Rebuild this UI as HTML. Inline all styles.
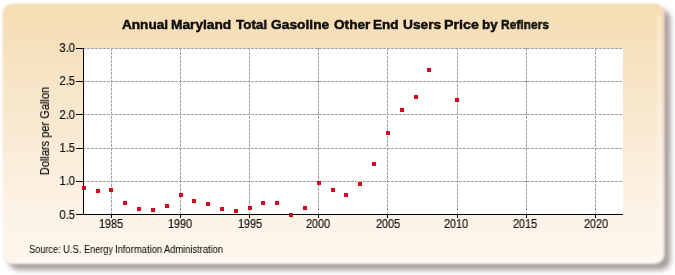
<!DOCTYPE html>
<html><head><meta charset="utf-8"><style>
html,body{margin:0;padding:0;background:#fff;width:675px;height:275px;overflow:hidden;position:relative;font-family:"Liberation Sans",sans-serif;}
.tw,.sw,.yl,.xl,.ytitle{will-change:transform;}
.tw{position:absolute;white-space:nowrap;transform-origin:0 0;color:#111;font-size:13.5px;font-weight:bold;-webkit-text-stroke:0.45px #000;line-height:16px;}
.sw{position:absolute;white-space:nowrap;transform-origin:0 0;color:#000;font-size:10px;line-height:12px;}
.yl,.xl,.ytitle{-webkit-text-stroke:0.2px #000;color:#000;}
svg{position:absolute;left:0;top:0;}
.yl{position:absolute;left:35px;width:40px;text-align:right;font-size:12px;color:#1a1a1a;line-height:14px;transform:scaleX(0.93);transform-origin:100% 50%;}
.xl{position:absolute;top:217px;width:40px;text-align:center;font-size:12px;color:#1a1a1a;line-height:14px;transform:scaleX(0.9);}
.ytitle{position:absolute;left:45px;top:131.3px;transform:translate(-50%,-50%) rotate(-90deg) scaleX(0.92);font-size:12px;color:#1a1a1a;white-space:nowrap;line-height:14px;}
</style></head><body>
<svg width="675" height="275" viewBox="0 0 675 275">
<defs>
<linearGradient id="pg" x1="0" y1="0" x2="0" y2="1">
<stop offset="0" stop-color="#f5ddb3"/>
<stop offset="0.45" stop-color="#f8e8cf"/>
<stop offset="0.75" stop-color="#fcf2e4"/>
<stop offset="1" stop-color="#fdf6ec"/>
</linearGradient>
<filter id="sh" x="-5%" y="-5%" width="110%" height="110%"><feGaussianBlur stdDeviation="2.5"/></filter>
<filter id="pb2" x="-5%" y="-5%" width="110%" height="110%"><feGaussianBlur stdDeviation="0.8"/></filter>
<filter id="pb" x="-5%" y="-5%" width="110%" height="110%"><feGaussianBlur stdDeviation="1.0"/></filter>
</defs>
<rect x="8.5" y="9.5" width="662" height="260.5" rx="10" ry="10" fill="#2a2018" fill-opacity="0.42" filter="url(#sh)"/>
<rect x="2.5" y="3.5" width="662" height="260.5" rx="10" ry="10" fill="url(#pg)" filter="url(#pb)"/>
<path d="M 659 16 L 659 249 Q 659 260.5 648 260.5 L 14 260.5" fill="none" stroke="#fff" stroke-opacity="0.45" stroke-width="2.5" filter="url(#pb2)"/>
</svg>

<svg width="675" height="275" viewBox="0 0 675 275" shape-rendering="crispEdges">
<rect x="83" y="48" width="540" height="166" fill="#ffffff"/>
<line x1="83" y1="48.5" x2="623" y2="48.5" stroke="#a0a0a0" stroke-width="1" stroke-dasharray="3,1"/>
<line x1="83" y1="81.5" x2="623" y2="81.5" stroke="#a0a0a0" stroke-width="1" stroke-dasharray="3,1"/>
<line x1="83" y1="114.5" x2="623" y2="114.5" stroke="#a0a0a0" stroke-width="1" stroke-dasharray="3,1"/>
<line x1="83" y1="148.5" x2="623" y2="148.5" stroke="#a0a0a0" stroke-width="1" stroke-dasharray="3,1"/>
<line x1="83" y1="181.5" x2="623" y2="181.5" stroke="#a0a0a0" stroke-width="1" stroke-dasharray="3,1"/>
<line x1="111.5" y1="48" x2="111.5" y2="214" stroke="#a0a0a0" stroke-width="1" stroke-dasharray="3,1"/>
<line x1="180.5" y1="48" x2="180.5" y2="214" stroke="#a0a0a0" stroke-width="1" stroke-dasharray="3,1"/>
<line x1="249.5" y1="48" x2="249.5" y2="214" stroke="#a0a0a0" stroke-width="1" stroke-dasharray="3,1"/>
<line x1="318.5" y1="48" x2="318.5" y2="214" stroke="#a0a0a0" stroke-width="1" stroke-dasharray="3,1"/>
<line x1="387.5" y1="48" x2="387.5" y2="214" stroke="#a0a0a0" stroke-width="1" stroke-dasharray="3,1"/>
<line x1="457.5" y1="48" x2="457.5" y2="214" stroke="#a0a0a0" stroke-width="1" stroke-dasharray="3,1"/>
<line x1="526.5" y1="48" x2="526.5" y2="214" stroke="#a0a0a0" stroke-width="1" stroke-dasharray="3,1"/>
<line x1="595.5" y1="48" x2="595.5" y2="214" stroke="#a0a0a0" stroke-width="1" stroke-dasharray="3,1"/>
<line x1="83.5" y1="48" x2="83.5" y2="215" stroke="#000" stroke-width="1"/>
<line x1="83" y1="214.5" x2="623" y2="214.5" stroke="#000" stroke-width="1"/>
<line x1="76" y1="48.5" x2="83" y2="48.5" stroke="#000" stroke-width="1"/>
<line x1="76" y1="81.5" x2="83" y2="81.5" stroke="#000" stroke-width="1"/>
<line x1="76" y1="114.5" x2="83" y2="114.5" stroke="#000" stroke-width="1"/>
<line x1="76" y1="148.5" x2="83" y2="148.5" stroke="#000" stroke-width="1"/>
<line x1="76" y1="181.5" x2="83" y2="181.5" stroke="#000" stroke-width="1"/>
<line x1="76" y1="214.5" x2="83" y2="214.5" stroke="#000" stroke-width="1"/>
<line x1="111.5" y1="214" x2="111.5" y2="218" stroke="#000" stroke-width="1"/>
<line x1="180.5" y1="214" x2="180.5" y2="218" stroke="#000" stroke-width="1"/>
<line x1="249.5" y1="214" x2="249.5" y2="218" stroke="#000" stroke-width="1"/>
<line x1="318.5" y1="214" x2="318.5" y2="218" stroke="#000" stroke-width="1"/>
<line x1="387.5" y1="214" x2="387.5" y2="218" stroke="#000" stroke-width="1"/>
<line x1="457.5" y1="214" x2="457.5" y2="218" stroke="#000" stroke-width="1"/>
<line x1="526.5" y1="214" x2="526.5" y2="218" stroke="#000" stroke-width="1"/>
<line x1="595.5" y1="214" x2="595.5" y2="218" stroke="#000" stroke-width="1"/>
<rect x="82" y="186" width="4" height="4" fill="#d60a1e"/>
<rect x="96" y="189" width="4" height="4" fill="#d60a1e"/>
<rect x="109" y="188" width="4" height="4" fill="#d60a1e"/>
<rect x="123" y="201" width="4" height="4" fill="#d60a1e"/>
<rect x="137" y="207" width="4" height="4" fill="#d60a1e"/>
<rect x="151" y="208" width="4" height="4" fill="#d60a1e"/>
<rect x="165" y="204" width="4" height="4" fill="#d60a1e"/>
<rect x="179" y="193" width="4" height="4" fill="#d60a1e"/>
<rect x="192" y="199" width="4" height="4" fill="#d60a1e"/>
<rect x="206" y="202" width="4" height="4" fill="#d60a1e"/>
<rect x="220" y="207" width="4" height="4" fill="#d60a1e"/>
<rect x="234" y="209" width="4" height="4" fill="#d60a1e"/>
<rect x="248" y="206" width="4" height="4" fill="#d60a1e"/>
<rect x="261" y="201" width="4" height="4" fill="#d60a1e"/>
<rect x="275" y="201" width="4" height="4" fill="#d60a1e"/>
<rect x="289" y="213" width="4" height="4" fill="#d60a1e"/>
<rect x="303" y="206" width="4" height="4" fill="#d60a1e"/>
<rect x="317" y="181" width="4" height="4" fill="#d60a1e"/>
<rect x="331" y="188" width="4" height="4" fill="#d60a1e"/>
<rect x="344" y="193" width="4" height="4" fill="#d60a1e"/>
<rect x="358" y="182" width="4" height="4" fill="#d60a1e"/>
<rect x="372" y="162" width="4" height="4" fill="#d60a1e"/>
<rect x="386" y="131" width="4" height="4" fill="#d60a1e"/>
<rect x="400" y="108" width="4" height="4" fill="#d60a1e"/>
<rect x="414" y="95" width="4" height="4" fill="#d60a1e"/>
<rect x="427" y="68" width="4" height="4" fill="#d60a1e"/>
<rect x="455" y="98" width="4" height="4" fill="#d60a1e"/>
<rect x="83" y="186" width="1" height="4" fill="#8a0814"/>
<rect x="289" y="214" width="4" height="1" fill="#8a0814"/>
</svg>
<div class="yl" style="top:41px">3.0</div><div class="yl" style="top:74px">2.5</div><div class="yl" style="top:108px">2.0</div><div class="yl" style="top:141px">1.5</div><div class="yl" style="top:174px">1.0</div><div class="yl" style="top:208px">0.5</div>
<div class="xl" style="left:91.45px">1985</div><div class="xl" style="left:160.40px">1990</div><div class="xl" style="left:229.60px">1995</div><div class="xl" style="left:298.10px">2000</div><div class="xl" style="left:367.50px">2005</div><div class="xl" style="left:436.40px">2010</div><div class="xl" style="left:505.30px">2015</div><div class="xl" style="left:575.70px">2020</div>
<div class="ytitle">Dollars per Gallon</div>
<span class="tw" style="left:121.80px;top:17.20px;transform:scaleX(1.0067)">Annual</span><span class="tw" style="left:170.74px;top:17.20px;transform:scaleX(1.0165)">Maryland</span><span class="tw" style="left:235.60px;top:17.20px;transform:scaleX(0.9934)">Total</span><span class="tw" style="left:271.34px;top:17.20px;transform:scaleX(1.0212)">Gasoline</span><span class="tw" style="left:333.65px;top:17.20px;transform:scaleX(1.0098)">Other</span><span class="tw" style="left:373.15px;top:17.20px;transform:scaleX(1.0000)">End</span><span class="tw" style="left:402.69px;top:17.20px;transform:scaleX(1.0177)">Users</span><span class="tw" style="left:443.61px;top:17.20px;transform:scaleX(1.0563)">Price</span><span class="tw" style="left:481.96px;top:17.20px;transform:scaleX(0.9902)">by</span><span class="tw" style="left:500.63px;top:17.20px;transform:scaleX(0.8887)">Refiners</span><span class="sw" style="left:28.94px;top:244.05px;transform:scaleX(0.9212)">Source:</span><span class="sw" style="left:63.09px;top:244.05px;transform:scaleX(0.9465)">U.S.</span><span class="sw" style="left:83.61px;top:244.05px;transform:scaleX(0.9138)">Energy</span><span class="sw" style="left:115.16px;top:244.05px;transform:scaleX(0.9430)">Information</span><span class="sw" style="left:164.30px;top:244.05px;transform:scaleX(0.9307)">Administration</span>
</body></html>
